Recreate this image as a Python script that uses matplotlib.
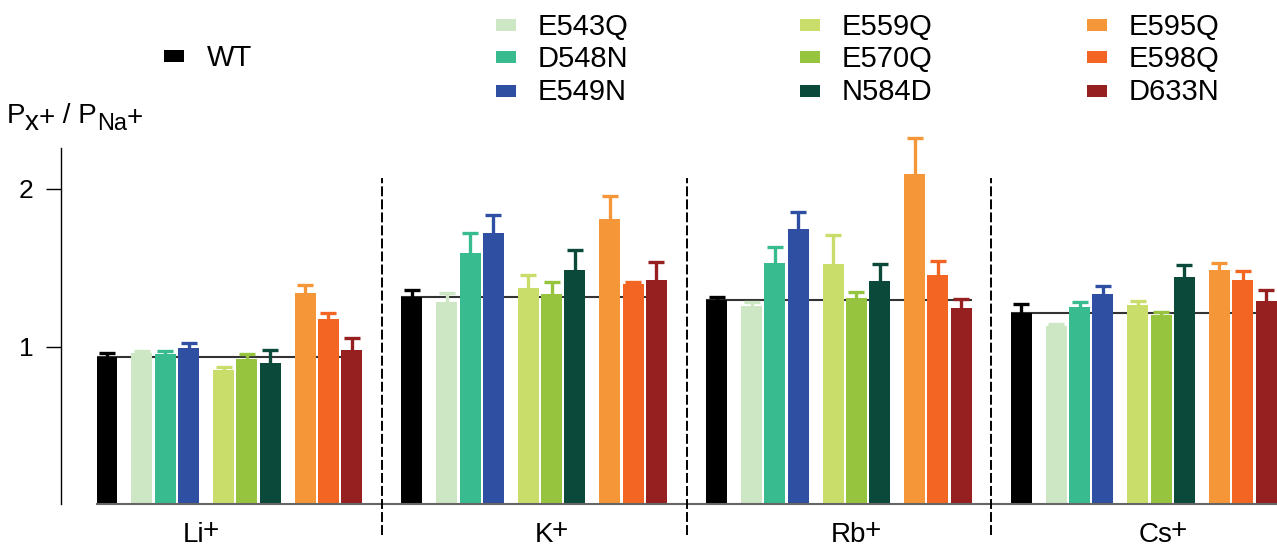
import numpy as np
import matplotlib
matplotlib.use("Agg")
import matplotlib.pyplot as plt
from matplotlib.patches import Rectangle

plt.rcParams["font.family"] = ["Liberation Sans", "DejaVu Sans"]

# ---- data: permeability ratio P_X / P_Na (mean and upper SEM) ----
ions = ["Li", "K", "Rb", "Cs"]
variants = ["WT", "E543Q", "D548N", "E549N", "E559Q", "E570Q",
            "N584D", "E595Q", "E598Q", "D633N"]
colors = ["#000000", "#cde6c4", "#38bb8f", "#2f4fa2", "#c9dd6b",
          "#97c43f", "#0b4a3a", "#f59739", "#f26522", "#962020"]

li_mean = [0.937, 0.960, 0.955, 0.990, 0.852, 0.924, 0.899, 1.339, 1.174, 0.979]
li_sem = [0.020, 0.015, 0.015, 0.035, 0.022, 0.032, 0.083, 0.050, 0.038, 0.074]
k_mean = [1.317, 1.283, 1.596, 1.719, 1.370, 1.334, 1.484, 1.810, 1.400, 1.421]
k_sem = [0.040, 0.060, 0.125, 0.116, 0.085, 0.076, 0.129, 0.146, 0.010, 0.116]
rb_mean = [1.296, 1.260, 1.529, 1.744, 1.524, 1.307, 1.415, 2.095, 1.457, 1.245]
rb_sem = [0.021, 0.023, 0.100, 0.108, 0.184, 0.042, 0.109, 0.226, 0.088, 0.057]
cs_mean = [1.216, 1.131, 1.250, 1.336, 1.264, 1.203, 1.442, 1.486, 1.421, 1.292]
cs_sem = [0.055, 0.010, 0.036, 0.051, 0.028, 0.019, 0.078, 0.043, 0.061, 0.069]

means = [li_mean, k_mean, rb_mean, cs_mean]
sems = [li_sem, k_sem, rb_sem, cs_sem]

# ---- layout ----
W, H = 1277, 548
bar_offsets = np.array([0, 1.5, 2.5, 3.5, 5, 6, 7, 8.5, 9.5, 10.5])
group_step = 13.08
bar_width = 0.9
ion_label_left = [3.26, 18.36, 31.07, 44.27]


def fx(px):
    return px / W


def fy(py):
    return 1 - py / H


fig = plt.figure(figsize=(W / 100, H / 100), dpi=100)
ax = fig.add_axes([fx(60.7), fy(504.4), fx(W - 60.7), (504.4 - 148.3) / H])
ax.set_xlim(-1.987, 50.21)
ax.set_ylim(0, 2.258)

for g, (m, s) in enumerate(zip(means, sems)):
    x = g * group_step + bar_offsets
    # reference line at the wild-type level
    ax.hlines(m[0], x[0] - bar_width / 2, x[-1] + bar_width / 2,
              color="#333333", lw=1.5, zorder=0.5)
    ax.bar(x, m, width=bar_width, color=colors, zorder=1)
    for xi, mi, si, c in zip(x, m, s, colors):
        eb = ax.errorbar(xi, mi, yerr=[[0], [si]], fmt="none", ecolor=c,
                         elinewidth=2.4, capsize=6, capthick=2.4, zorder=1.5)
        eb.lines[1][0].remove()  # upper error only
        eb.lines[1][1].set_clip_on(False)
        for col in eb.lines[2]:
            col.set_clip_on(False)

# dashed separators between ions
seps = [g * group_step + (bar_offsets[-1] + group_step) / 2 for g in range(3)]
ax.vlines(seps, -0.194, 2.068, colors="black", lw=1.4,
          linestyles=(0, (5.1, 1.6)), clip_on=False, zorder=3)

# axes styling
for side in ("top", "right"):
    ax.spines[side].set_visible(False)
ax.spines["left"].set_linewidth(1.0)
ax.spines["bottom"].set_color("#666666")
ax.spines["bottom"].set_linewidth(1.5)
ax.spines["bottom"].set_bounds(-bar_width / 2, 50.21)

ax.set_yticks([1, 2])
ax.set_yticklabels(["1", "2"])
ax.tick_params(axis="y", length=10.8, width=1.0, pad=9, labelsize=19,
               direction="out")
ax.set_xticks([])


def chain(first, pieces):
    """Write text pieces left to right, each with its own size and baseline."""
    prev = first
    for s, size, base_py, dx in pieces:
        prev = ax.annotate(s, xy=(1, H - base_py),
                           xycoords=(prev, "figure pixels"),
                           xytext=(dx, 0), textcoords="offset pixels",
                           fontsize=size, ha="left", va="baseline",
                           annotation_clip=False)
    return prev


# ion labels under each group, each with a raised plus sign
label_base = 542.0
for g, (name, lx) in enumerate(zip(ions, ion_label_left)):
    t = ax.text(lx, 0, name, fontsize=20, ha="left", va="baseline",
                transform=ax.get_xaxis_transform(), clip_on=False)
    t.set_y(-(label_base - 504.4) / (504.4 - 148.3))
    chain(t, [("+", 20, label_base - 3.5, -1.5)])

# y-axis title: P_x+ / P_Na+
p1 = fig.text(fx(6.3), fy(123.3), "P", fontsize=20, ha="left",
              va="baseline")
chain(p1, [("x", 20, 129.5, 0), ("+", 20, 124.8, 0), (" / P", 20, 123.3, 0),
           ("Na", 17, 130.0, 0), ("+", 20, 124.8, 0)])

# legend: WT alone, then three columns of three mutants
legend_cols = [[0], [1, 2, 3], [4, 5, 6], [7, 8, 9]]
col_x = [164, 496, 800, 1086.7]
row_y = [[56.3], [24.8, 57.3, 90.5], [24.8, 57.3, 90.5], [24.8, 57.3, 90.5]]
for idxs, cx, rys in zip(legend_cols, col_x, row_y):
    for i, ry in zip(idxs, rys):
        fig.add_artist(Rectangle((fx(cx), fy(ry + 6)), 20 / W, 12 / H,
                                 transform=fig.transFigure,
                                 facecolor=colors[i], edgecolor="none"))
        tx = cx + (42.7 if i == 0 else 41.5)
        fig.text(fx(tx), fy(ry + 10), variants[i], fontsize=21,
                 ha="left", va="baseline")

fig.savefig("out.png", dpi=100)
